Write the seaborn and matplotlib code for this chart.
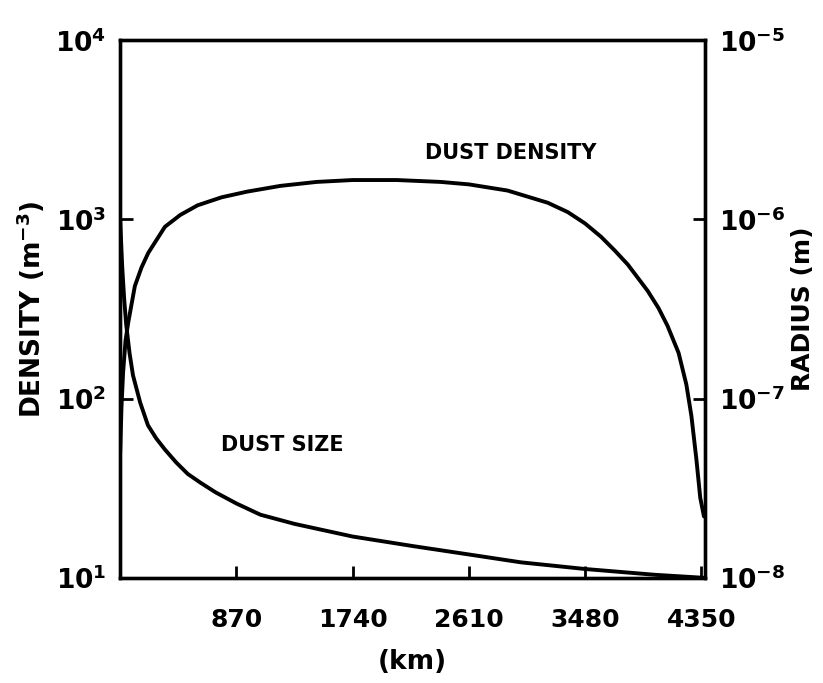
import numpy as np
import pandas as pd
import matplotlib
matplotlib.use('Agg')
import matplotlib.pyplot as plt
import seaborn as sns
from matplotlib.ticker import NullLocator

# dust density along the path (km, m^-3)
density_km = [0, 10, 22, 40, 60, 110, 160, 210, 335, 450, 580, 760, 950, 1200,
              1470, 1740, 2070, 2400, 2610, 2900, 3200, 3350, 3480, 3600, 3703,
              3800, 3948, 4030, 4097, 4180, 4238, 4276, 4313, 4342, 4370]
density = [50, 90, 140, 210, 265, 425, 540, 650, 910, 1060, 1200, 1330, 1430, 1540,
           1620, 1660, 1660, 1620, 1570, 1450, 1240, 1100, 950, 800, 670,
           560, 400, 320, 255, 180, 120, 80, 46, 28, 22]

# dust grain radius (km, m)
size_km = [0, 15, 30, 45, 70, 96, 150, 208, 270, 335, 420, 506, 600, 714, 870,
           1050, 1305, 1740, 2200, 2610, 3000, 3480, 4000, 4370]
radius = [1.0e-6, 5.5e-7, 3.6e-7, 2.6e-7, 1.8e-7, 1.35e-7, 9.5e-8, 7.1e-8, 6.0e-8,
          5.2e-8, 4.4e-8, 3.8e-8, 3.4e-8, 3.0e-8, 2.6e-8, 2.25e-8, 2.0e-8, 1.7e-8,
          1.5e-8, 1.35e-8, 1.22e-8, 1.12e-8, 1.04e-8, 1.0e-8]

x_ticks = [870, 1740, 2610, 3480, 4350]
left_ticks = [1e1, 1e2, 1e3, 1e4]
left_labels = [r'$\mathbf{10^1}$', r'$\mathbf{10^2}$', r'$\mathbf{10^3}$', r'$\mathbf{10^4}$']
right_ticks = [1e-8, 1e-7, 1e-6, 1e-5]
right_labels = [r'$\mathbf{10^{-8}}$', r'$\mathbf{10^{-7}}$', r'$\mathbf{10^{-6}}$', r'$\mathbf{10^{-5}}$']

df_density = pd.DataFrame({'km': density_km, 'density': density})
df_size = pd.DataFrame({'km': size_km, 'radius': radius})

sns.set_style('ticks')
plt.rcParams['font.family'] = ['DejaVu Sans Condensed', 'DejaVu Sans']
plt.rcParams['font.weight'] = 'bold'
plt.rcParams['mathtext.fontset'] = 'dejavusans'
for k in ('text.color', 'axes.labelcolor', 'xtick.color', 'ytick.color'):
    plt.rcParams[k] = 'black'

fig, ax = plt.subplots(figsize=(8.23, 6.83), dpi=100)
fig.subplots_adjust(left=0.146, right=0.857, bottom=0.154, top=0.941)

sns.lineplot(data=df_density, x='km', y='density', ax=ax, color='black', lw=2.8)
ax.set_yscale('log')
ax.set_ylim(10, 1e4)
ax.set_xlim(0, 4380)

ax2 = ax.twinx()
sns.lineplot(data=df_size, x='km', y='radius', ax=ax2, color='black', lw=2.8)
ax2.set_yscale('log')
ax2.set_ylim(1e-8, 1e-5)

ax.set_xticks(x_ticks)
ax.set_xticklabels([str(t) for t in x_ticks], fontsize=18, fontweight='bold')
ax.set_yticks(left_ticks)
ax.set_yticklabels(left_labels, fontsize=19)
ax2.set_yticks(right_ticks)
ax2.set_yticklabels(right_labels, fontsize=19)
for a in (ax, ax2):
    a.yaxis.set_minor_locator(NullLocator())
    a.tick_params(direction='in', length=9, width=2, pad=10)
    for s in a.spines.values():
        s.set_linewidth(2.4)
        s.set_color('black')
ax.tick_params(axis='x', pad=22)

ax.set_xlabel('(km)', fontsize=19, fontweight='bold', labelpad=12)
ax.set_ylabel(r'DENSITY (m$^{\mathbf{-3}}$)', fontsize=19, fontweight='bold', labelpad=6)
ax2.set_ylabel('RADIUS (m)', fontsize=18, fontweight='bold', labelpad=4)

ax.text(2920, 2350, 'DUST DENSITY', fontsize=15, ha='center', va='center')
ax2.text(1212, 5.5e-8, 'DUST SIZE', fontsize=15, ha='center', va='center')

fig.savefig('out.png', dpi=100)
